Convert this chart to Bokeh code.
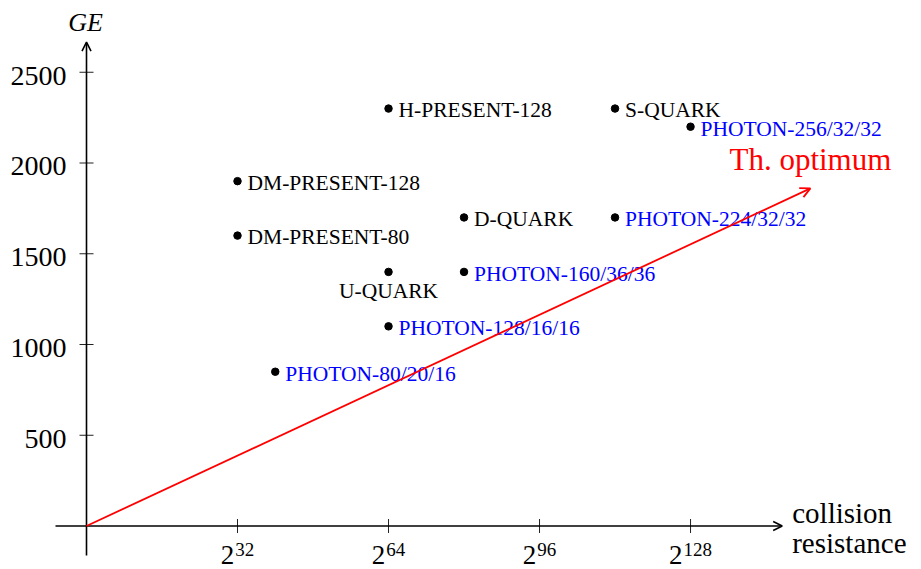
from bokeh.plotting import figure
from bokeh.models import Arrow, OpenHead, Range1d
from bokeh.core.properties import value
from bokeh.embed import file_html
from bokeh.resources import INLINE

# ---------------- data ----------------
names = ["H-PRESENT-128", "S-QUARK", "PHOTON-256/32/32", "DM-PRESENT-128",
         "DM-PRESENT-80", "D-QUARK", "PHOTON-224/32/32", "U-QUARK",
         "PHOTON-160/36/36", "PHOTON-128/16/16", "PHOTON-80/20/16"]
collision_log2 = [64, 112, 128, 32, 32, 80, 112, 64, 80, 64, 40]
ge = [2300, 2300, 2200, 1900, 1600, 1700, 1700, 1400, 1400, 1100, 850]
x_ticks = [32, 64, 96, 128]
y_ticks = [500, 1000, 1500, 2000, 2500]
optimum_start = (0, 0)
optimum_end = (153.4, 1860)
optimum_label = "Th. optimum"
x_label = ["collision", "resistance"]
y_label = "GE"

# ---------------- layout ----------------
W, H = 921, 569
PX_X = 4.719      # pixels per log2 unit
PX_Y = 0.1815     # pixels per GE
OX, OY = 86.0, 525.5   # origin in figure pixels

FONT = value("Liberation Serif")


def bl(size):
    # correction so that the text baseline lands where intended
    return -0.31 * size


p = figure(width=W, height=H, output_backend="svg", toolbar_location=None,
           x_range=Range1d(-OX / PX_X, (W - OX) / PX_X),
           y_range=Range1d((OY - H) / PX_Y, OY / PX_Y),
           min_border=0, min_border_left=0, min_border_right=0,
           min_border_top=0, min_border_bottom=0)
p.axis.visible = False
p.grid.visible = False
p.outline_line_color = None
p.background_fill_color = "white"
p.border_fill_color = "white"

# axes with arrow heads
x_axis_left = -31 / PX_X
x_axis_tip = 695.7 / PX_X
y_axis_bottom = -29.5 / PX_Y
y_axis_tip = 483.8 / PX_Y
p.add_layout(Arrow(end=OpenHead(size=9, line_width=1.6, line_color="black"),
                   x_start=x_axis_left, y_start=0, x_end=x_axis_tip, y_end=0,
                   line_width=1.6, line_color="black"))
p.add_layout(Arrow(end=OpenHead(size=9, line_width=1.6, line_color="black"),
                   x_start=0, y_start=y_axis_bottom, x_end=0, y_end=y_axis_tip,
                   line_width=1.6, line_color="black"))

# tick marks
p.scatter(x=x_ticks, y=[0] * len(x_ticks), marker="dash", size=14, angle=1.5708,
          line_color="#222222", line_width=1)
p.scatter(x=[0] * len(y_ticks), y=y_ticks, marker="dash", size=14,
          line_color="#222222", line_width=1)

# y tick labels
p.text(x=[0] * len(y_ticks), y=y_ticks, text=[str(t) for t in y_ticks],
       text_font=FONT, text_font_size="28px", text_color="black",
       text_align="right", text_baseline="alphabetic", x_offset=-20,
       y_offset=12 + bl(28))

# x tick labels: 2^k
BASE_SIZE, SUP_SIZE = 27, 19
for t in x_ticks:
    s = str(t)
    base_w = 0.5 * BASE_SIZE
    sup_w = 0.5 * SUP_SIZE * len(s)
    left = -(base_w + sup_w + 1) / 2
    p.text(x=[t], y=[0], text=["2"], text_font=FONT, text_font_size=f"{BASE_SIZE}px",
           text_color="black", text_align="left", text_baseline="alphabetic",
           x_offset=left, y_offset=37 + bl(BASE_SIZE))
    p.text(x=[t], y=[0], text=[s], text_font=FONT, text_font_size=f"{SUP_SIZE}px",
           text_color="black", text_align="left", text_baseline="alphabetic",
           x_offset=left + base_w + 1, y_offset=29 + bl(SUP_SIZE))

# axis titles
p.text(x=[0], y=[y_axis_tip], text=[y_label], text_font=FONT, text_font_size="26px",
       text_font_style="italic", text_color="black", text_align="center",
       text_baseline="alphabetic", x_offset=-1, y_offset=-12 + bl(26))
p.text(x=[x_axis_tip, x_axis_tip], y=[0, 0], text=x_label, text_font=FONT,
       text_font_size="29px", text_color="black", text_align="left",
       text_baseline="alphabetic", x_offset=10,
       y_offset=[-4 + bl(29), 26 + bl(29)])

# theoretical optimum
p.add_layout(Arrow(end=OpenHead(size=10, line_width=1.8, line_color="#ff0000"),
                   x_start=optimum_start[0], y_start=optimum_start[1],
                   x_end=optimum_end[0], y_end=optimum_end[1],
                   line_width=1.8, line_color="#ff0000"))
p.text(x=[optimum_end[0]], y=[optimum_end[1]], text=[optimum_label], text_font=FONT,
       text_font_size="31px", text_color="#ff0000", text_align="center",
       text_baseline="alphabetic", y_offset=-19 + bl(31))

# points
p.scatter(x=collision_log2, y=ge, size=7.5, color="black")

below_labels = {"U-QUARK"}
for n, cx, gy in zip(names, collision_log2, ge):
    col = "#0000ff" if n.startswith("PHOTON") else "black"
    if n in below_labels:
        p.text(x=[cx], y=[gy], text=[n], text_font=FONT, text_font_size="21.5px",
               text_color=col, text_align="center", text_baseline="alphabetic",
               y_offset=25.5 + bl(21.5))
    else:
        p.text(x=[cx], y=[gy], text=[n], text_font=FONT, text_font_size="21.5px",
               text_color=col, text_align="left", text_baseline="alphabetic",
               x_offset=10, y_offset=8.5 + bl(21.5))

open("out.html", "w").write(file_html(p, INLINE))
